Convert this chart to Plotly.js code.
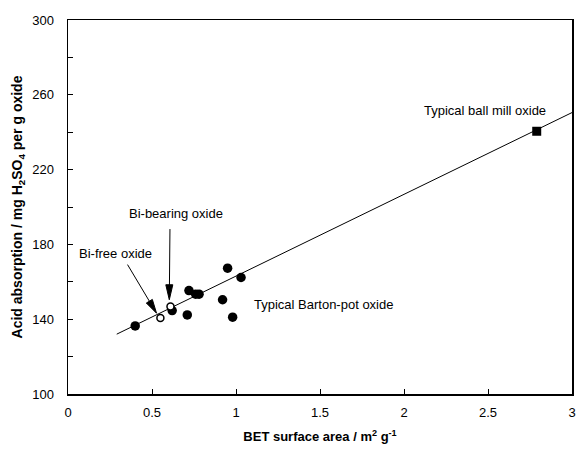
<!DOCTYPE html>
<html><head><meta charset="utf-8">
<script src="https://cdn.plot.ly/plotly-3.0.1.min.js"></script>
<style>body{margin:0;background:#fff}#plot{width:578px;height:450px}</style>
</head><body><div id="plot"></div>
<script>
const bartonX = [0.40, 0.62, 0.71, 0.72, 0.76, 0.78, 0.92, 0.95, 0.98, 1.03];
const bartonY = [136.4, 144.6, 142.3, 155.3, 153.4, 153.4, 150.4, 167.3, 141.1, 162.3];
const biFreeX = [0.55], biFreeY = [140.6];
const biBearX = [0.61], biBearY = [146.8];
const ballX = [2.79], ballY = [240.5];
const fitX = [0.29, 3.0], fitY = [132.0, 250.5];

const F = 'Liberation Sans, Arial, sans-serif';
const traces = [
  {x: fitX, y: fitY, mode: 'lines', line: {color: '#000', width: 1}, hoverinfo: 'skip'},
  {x: bartonX, y: bartonY, mode: 'markers', marker: {symbol: 'circle', size: 9.5, color: '#000'}},
  {x: biFreeX, y: biFreeY, mode: 'markers', marker: {symbol: 'circle', size: 7, color: '#fff', line: {color: '#000', width: 1.5}}},
  {x: biBearX, y: biBearY, mode: 'markers', marker: {symbol: 'circle', size: 7, color: '#fff', line: {color: '#000', width: 1.5}}},
  {x: ballX, y: ballY, mode: 'markers', marker: {symbol: 'square', size: 9, color: '#000'}}
];
const txt = (x, y, t) => ({x, y, xref: 'x', yref: 'y', text: t, showarrow: false, font: {family: F, size: 13, color: '#000'}});
const arr = (x, y, ax, ay) => ({x, y, ax, ay, xref: 'x', yref: 'y', axref: 'x', ayref: 'y', text: '', showarrow: true, arrowhead: 0, arrowwidth: 1, arrowcolor: '#000', standoff: 4});
const head = (x, y, p) => ({type: 'path', xref: 'x', yref: 'y', xsizemode: 'pixel', ysizemode: 'pixel', xanchor: x, yanchor: y, path: p, fillcolor: '#000', line: {color: '#000', width: 1}, layer: 'above'});
const layout = {
  width: 578, height: 450,
  margin: {l: 68, r: 6, t: 20, b: 56},
  paper_bgcolor: '#fff', plot_bgcolor: '#fff',
  showlegend: false,
  font: {family: F, size: 13, color: '#000'},
  xaxis: {range: [0, 3], tickvals: [0, 0.5, 1, 1.5, 2, 2.5, 3], ticktext: ['0', '0.5', '1', '1.5', '2', '2.5', '3'],
    ticks: 'inside', ticklen: 5, tickcolor: '#000', showgrid: false, zeroline: false,
    showline: true, linecolor: '#000', linewidth: 1.5, mirror: true, ticklabelstandoff: 6,
    title: {text: '<b>BET surface area / m<sup>2</sup> g<sup>-1</sup></b>', font: {family: F, size: 13}, standoff: 13}},
  yaxis: {range: [100, 300], tickvals: [100, 140, 180, 220, 260, 300],
    ticks: 'inside', ticklen: 5, tickcolor: '#000', showgrid: false, zeroline: false,
    minor: {dtick: 20, ticks: 'inside', ticklen: 5, tickcolor: '#000', showgrid: false},
    showline: true, linecolor: '#000', linewidth: 1.5, mirror: true, ticklabelstandoff: 10,
    title: {text: '<b>Acid absorption / mg H<sub>2</sub>SO<sub>4</sub> per g oxide</b>', font: {family: F, size: 14}, standoff: 6}},
  annotations: [
    txt(0.28, 175, 'Bi-free oxide'),
    txt(0.643, 196.4, 'Bi-bearing oxide'),
    txt(1.518, 147.7, 'Typical Barton-pot oxide'),
    txt(2.482, 251.6, 'Typical ball mill oxide'),
    arr(0.527, 143.2, 0.349, 170),
    arr(0.603, 150.4, 0.607, 189)
  ],
  shapes: [
    head(0.527, 143.2, 'M0,0 L-4.2,13.8 L-10.2,10.2 Z'),
    head(0.603, 150.4, 'M0,0 L-3.5,15 L3.5,15 Z')
  ]
};
Plotly.newPlot('plot', traces, layout, {staticPlot: true});
</script></body></html>
